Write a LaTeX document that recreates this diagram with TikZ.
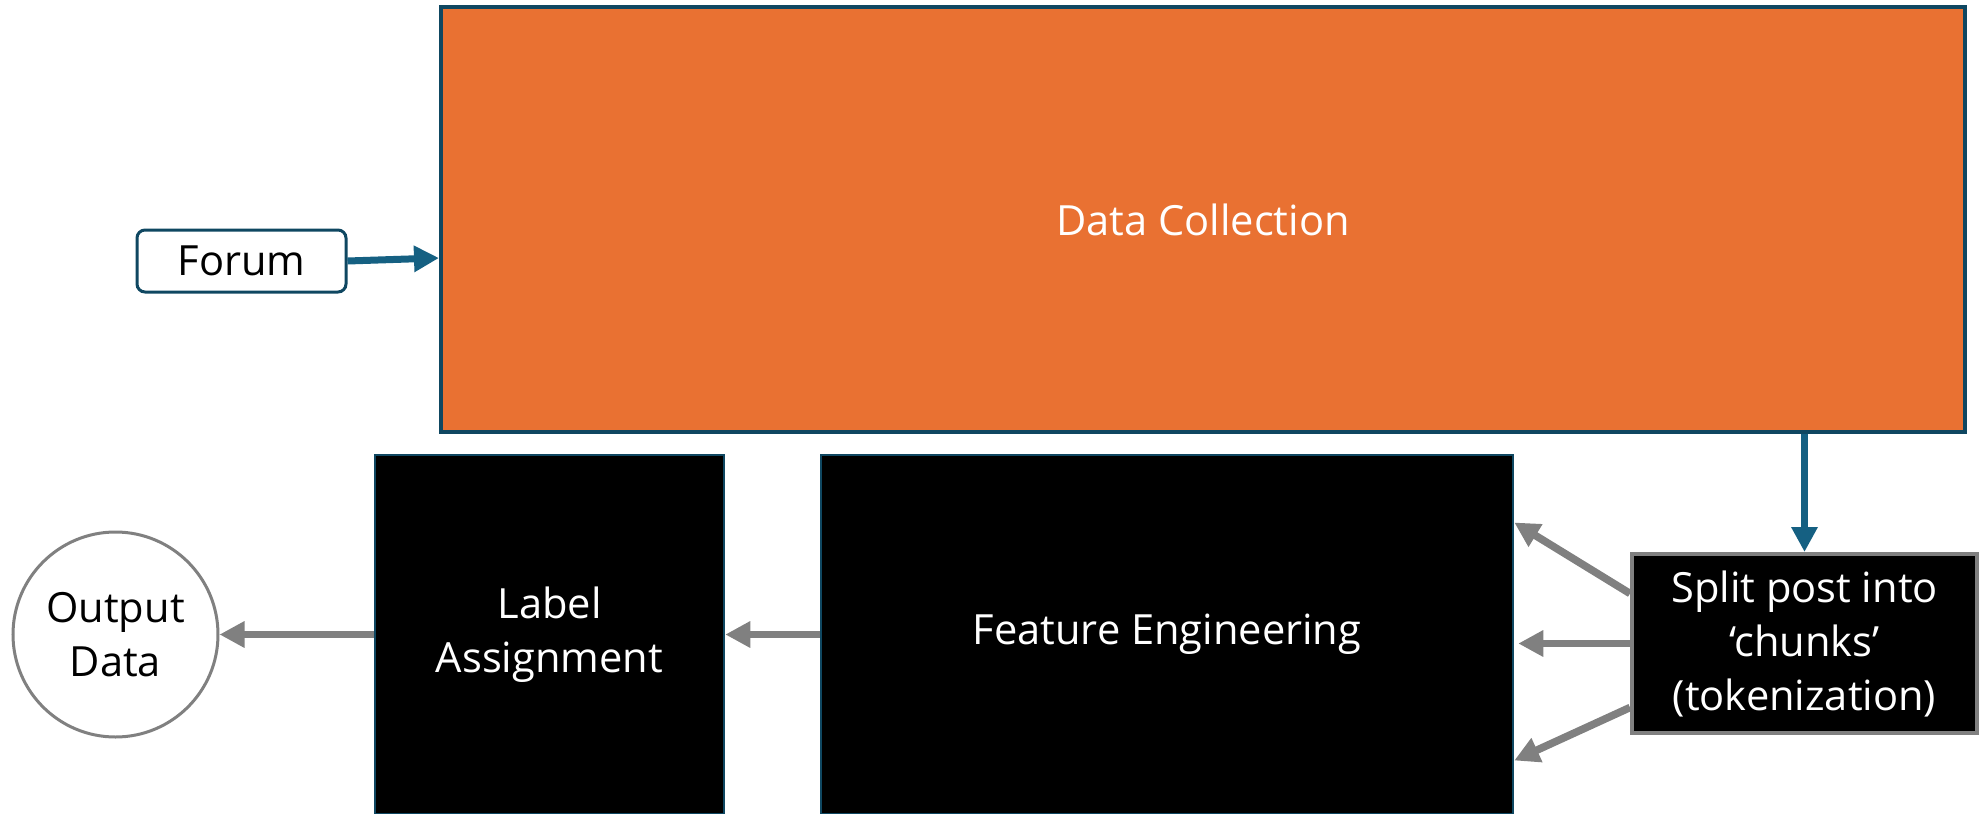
\documentclass[tikz,border=0pt]{standalone}
\usepackage{fontspec}
\setmainfont{Open Sans}
\usetikzlibrary{arrows.meta,calc}
\definecolor{dcorange}{HTML}{E97132}
\definecolor{edgeblue}{HTML}{0F4761}
\definecolor{flowblue}{HTML}{156082}
\definecolor{flowgray}{HTML}{808080}
\begin{document}
\begin{tikzpicture}[x=0.5pt,y=-0.5pt,
  txt/.style={font=\fontsize{20.8pt}{27pt}\selectfont, align=center, inner sep=0pt},
  darkbox/.style={txt, draw=edgeblue, line width=1.25pt, fill=black, text=white},
  bluearrow/.style={draw=flowblue, line width=3.5pt, -{Triangle[width=12.5pt,length=12.5pt]}},
  grayarrow/.style={draw=flowgray, line width=3.8pt, -{Triangle[width=12.5pt,length=12.5pt]}}]
\useasboundingbox (0,0) rectangle (1982,814);

% process boxes
\node[txt, draw=edgeblue, line width=2pt, fill=dcorange, text=white,
      minimum width=762pt, minimum height=212.5pt] (dc) at (1203,219.5) {Data Collection};
\node[txt, draw=edgeblue, line width=1.5pt, fill=white, rounded corners=4pt,
      minimum width=104.5pt, minimum height=31pt] (forum) at (241.5,261) {Forum};
\node[darkbox, minimum width=174.5pt, minimum height=179.5pt] (la) at (549.5,634.5) {Label\\Assignment};
\node[darkbox, minimum width=346pt, minimum height=179.5pt] (fe) at (1167,634.5) {Feature Engineering};
\node[txt, draw=flowgray, line width=2pt, fill=black, text=white,
      minimum width=172.5pt, minimum height=89.5pt] (split) at (1804.5,643.5)
      {Split post into\\‘chunks’\\(tokenization)};
\node[txt, circle, draw=flowgray, line width=1.5pt, fill=white,
      minimum size=102.5pt] (out) at (115.5,634.5) {Output\\Data};

% flow connectors
\draw[bluearrow] (forum.east) -- ([yshift=1.5pt]dc.west |- forum.east);
\draw[bluearrow] (dc.south -| split.north) -- (split.north);
\draw[grayarrow] ([yshift=25pt]split.west) -- ([yshift=56pt]fe.east);
\draw[grayarrow] (split.west) -- ([xshift=2pt]fe.east |- split.west);
\draw[grayarrow] ([yshift=-32pt]split.west) -- ([yshift=-63pt]fe.east);
\draw[grayarrow] (fe.west) -- (la.east);
\draw[grayarrow] (la.west) -- (out.east);
\end{tikzpicture}
\end{document}
